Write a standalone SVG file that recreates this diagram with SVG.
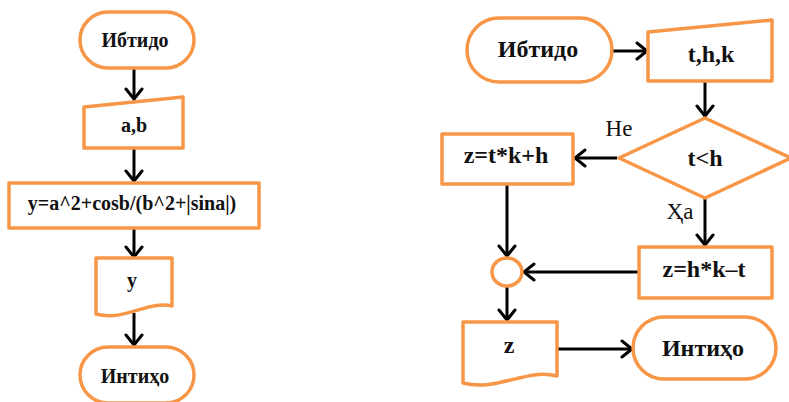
<svg xmlns="http://www.w3.org/2000/svg" width="789" height="402" viewBox="0 0 789 402">
<style>
.s{fill:#fff;stroke:#F79646;stroke-width:3.5;stroke-linejoin:round}
text{font-family:"Times New Roman","Liberation Serif","DejaVu Serif",serif}
.t{font-weight:bold;fill:#111;text-anchor:middle}
.l{font-size:20px}
.r{font-size:24px}
.lb{font-size:23px;fill:#111;text-anchor:middle}
.c{fill:none;stroke:#000;stroke-width:3;marker-end:url(#a)}
</style>
<defs>
<marker id="a" markerUnits="userSpaceOnUse" markerWidth="20" markerHeight="20" viewBox="-12 -10 14 20" refX="0" refY="0" orient="auto">
<path d="M-10,-8 L0,0 L-10,8" fill="none" stroke="#000" stroke-width="3" stroke-linecap="round" stroke-linejoin="miter"/>
</marker>
</defs>
<rect width="789" height="402" fill="#fff"/>
<g id="connectors">
<line class="c" x1="134" y1="68" x2="134" y2="99"/>
<line class="c" x1="134" y1="148" x2="134" y2="181"/>
<line class="c" x1="134" y1="228" x2="134" y2="257"/>
<line class="c" x1="134" y1="313" x2="134" y2="345"/>
<line class="c" x1="612" y1="51" x2="647" y2="51"/>
<line class="c" x1="705" y1="81" x2="705" y2="116"/>
<line class="c" x1="617" y1="158" x2="575" y2="158"/>
<line class="c" x1="507" y1="184" x2="507" y2="256"/>
<line class="c" x1="705" y1="198" x2="705" y2="245"/>
<line class="c" x1="639" y1="272" x2="524" y2="272"/>
<line class="c" x1="507" y1="286" x2="507" y2="320"/>
<line class="c" x1="555" y1="349" x2="632" y2="349"/>
</g>
<g id="start1"><rect class="s" x="80" y="12" width="114" height="56" rx="28"/><text class="t l" x="135" y="47">Ибтидо</text></g>
<g id="input1"><path class="s" d="M84,107 L183,97 L183,148 L84,148 Z"/><text class="t l" x="134" y="132">a,b</text></g>
<g id="calc1"><rect class="s" x="9" y="183" width="250" height="45"/><text class="t l" x="132" y="210">y=a^2+cosb/(b^2+|sina|)</text></g>
<g id="output1"><path class="s" d="M96,258 H172 V306 C148,300 124,322 96,314 Z"/><text class="t l" x="132" y="287">y</text></g>
<g id="end1"><rect class="s" x="80" y="347" width="114" height="56" rx="28"/><text class="t l" x="135" y="383">Интиҳо</text></g>
<g id="start2"><rect class="s" x="467" y="18" width="145" height="64" rx="32"/><text class="t r" x="538" y="57">Ибтидо</text></g>
<g id="input2"><path class="s" d="M648,32 L772,20 L772,81 L648,81 Z"/><text class="t r" x="711" y="62">t,h,k</text></g>
<g id="cond"><path class="s" d="M705,118 L791,158 L705,198 L619,158 Z"/><text class="t r" x="705" y="166">t&lt;h</text></g>
<g id="calcA"><rect class="s" x="442" y="134" width="131" height="50"/><text class="t r" x="506" y="163">z=t*k+h</text></g>
<g id="calcB"><rect class="s" x="639" y="247" width="133" height="51"/><text class="t r" x="704" y="277">z=h*k–t</text></g>
<g id="join"><ellipse class="s" cx="507" cy="272" rx="15" ry="14"/></g>
<g id="output2"><path class="s" d="M463,322 H557 V376 C525,368 498,392 463,383 Z"/><text class="t r" x="509" y="353">z</text></g>
<g id="end2"><rect class="s" x="633" y="317" width="143" height="62" rx="31"/><text class="t r" x="703" y="356">Интиҳо</text></g>
<g id="labels"><text class="lb" x="619" y="136">Не</text><text class="lb" x="680" y="219">Ҳа</text></g>
</svg>
